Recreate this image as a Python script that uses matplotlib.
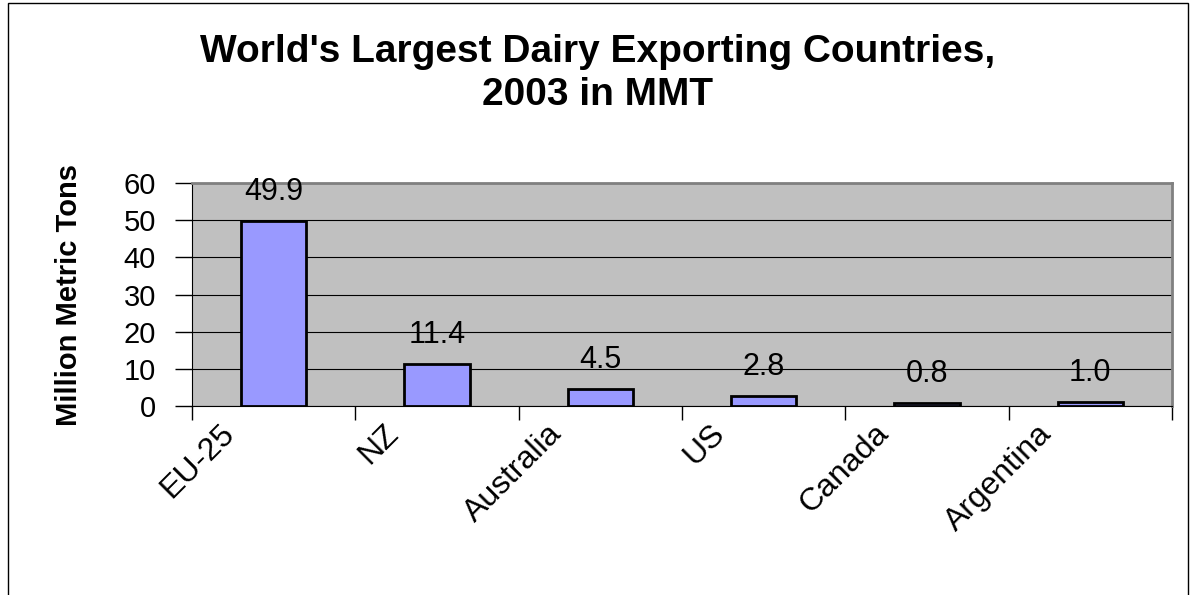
import matplotlib
matplotlib.use("Agg")
import matplotlib.pyplot as plt
from matplotlib.patches import Rectangle

countries = ["EU-25", "NZ", "Australia", "US", "Canada", "Argentina"]
exports = [49.9, 11.4, 4.5, 2.8, 0.8, 1.0]
labels = ["49.9", "11.4", "4.5", "2.8", "0.8", "1.0"]
yticks = [0, 10, 20, 30, 40, 50, 60]

plt.rcParams['font.family'] = ['Liberation Sans', 'DejaVu Sans']

fig = plt.figure(figsize=(11.96, 5.95), dpi=100)
fig.patches.append(Rectangle((8/1196, -0.01), (1188-8)/1196, 1 - 3/595 + 0.01,
                             transform=fig.transFigure, fill=False,
                             edgecolor='black', linewidth=1.0))

ax = fig.add_axes([192/1196, 1-406/595, (1172-192)/1196, (406-183)/595])
ax.set_facecolor('#C0C0C0')
x = list(range(len(countries)))
ax.bar(x, exports, width=0.4, color='#9999FF', edgecolor='black', linewidth=2, zorder=3)
for xi, v, lab in zip(x, exports, labels):
    ax.annotate(lab, (xi, v), xytext=(0, 10), textcoords='offset points',
                ha='center', va='bottom', fontsize=22, zorder=4)

ax.set_xlim(-0.5, len(countries) - 0.5)
ax.set_ylim(0, 60)
ax.set_yticks(yticks)
ax.set_yticklabels([str(t) for t in yticks], fontsize=21)
ax.yaxis.grid(True, color='black', linewidth=0.8, zorder=1)
ax.set_axisbelow(True)

# category-boundary ticks on x
ax.set_xticks([i - 0.5 for i in range(len(countries) + 1)])
ax.set_xticklabels([])
ax.set_xticks([xi - 0.33 for xi in x], minor=True)
ax.set_xticklabels(countries, minor=True, rotation=45, ha='right', va='top',
                   rotation_mode='anchor', fontsize=23)
ax.tick_params(axis='x', which='minor', length=0, pad=9)
ax.tick_params(axis='x', which='major', length=10, width=1)
ax.tick_params(axis='y', length=12, width=1, pad=14)

for s in ['top', 'right']:
    ax.spines[s].set_color('#808080')
    ax.spines[s].set_linewidth(2)
for s in ['left', 'bottom']:
    ax.spines[s].set_color('black')

ax.set_ylabel("Million Metric Tons", fontsize=21, fontweight='bold')
ax.yaxis.set_label_coords((83 - 192) / 980, 0.5)

fig.text(598/1196, 1-52/595, "World's Largest Dairy Exporting Countries,",
         ha='center', va='center', fontsize=28, fontweight='bold')
fig.text(598/1196, 1-95/595, "2003 in MMT",
         ha='center', va='center', fontsize=28, fontweight='bold')

fig.savefig("out.png", dpi=100)
